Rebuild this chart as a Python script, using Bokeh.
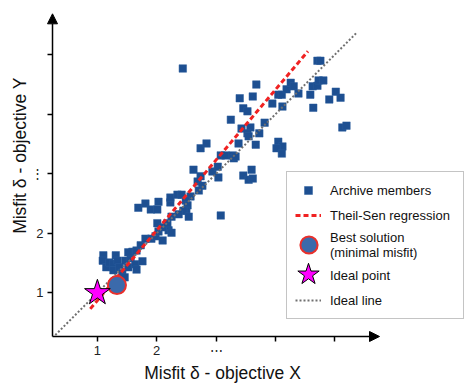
import math
from bokeh.plotting import figure
from bokeh.models import (Range1d, FixedTicker, Arrow, NormalHead, Label,
                          Legend, LegendItem)
from bokeh.embed import file_html
from bokeh.resources import INLINE

# ---- data ----
archive_x = [1.10, 1.09, 1.15, 1.20, 1.27, 1.31, 1.34, 1.27, 1.37, 1.42, 1.46, 1.47, 1.52, 1.56, 1.59, 1.66, 1.73, 1.64, 1.66, 1.76, 1.52,
             1.81, 1.91, 1.98, 2.10, 2.03, 2.20, 2.01, 2.10, 2.18, 2.25,
             1.69, 1.81, 1.90, 2.01, 2.03, 2.23, 2.23, 2.35, 2.42, 2.57, 2.49, 2.52, 2.50, 2.45, 2.54, 2.37, 2.25, 3.08,
             2.62, 2.74, 2.69, 2.77, 2.71, 2.94, 3.03, 3.04, 2.74, 2.84, 3.08, 3.16, 3.28, 3.30, 3.33, 3.38, 3.46, 3.55, 3.62, 3.60, 3.67,
             3.25, 3.40, 3.46, 3.53, 3.68, 3.62, 3.43, 3.58, 3.53, 3.55, 3.73, 3.82, 4.05, 4.12, 4.02, 4.11, 3.95, 4.12, 4.05, 4.11,
             4.19, 4.26, 4.31, 4.39, 4.59, 4.64, 4.63, 4.71, 4.73, 4.81, 4.71, 4.76, 5.02, 5.10, 4.91, 5.13, 5.20, 2.44]
archive_y = [1.63, 1.54, 1.43, 1.51, 1.49, 1.63, 1.54, 1.38, 1.43, 1.34, 1.26, 1.54, 1.43, 1.58, 1.69, 1.71, 1.80, 1.48, 1.39, 1.53, 1.68,
             1.91, 1.91, 1.95, 1.88, 2.03, 2.05, 2.17, 2.10, 2.17, 2.01,
             2.43, 2.50, 2.40, 2.40, 2.53, 2.52, 2.60, 2.65, 2.65, 2.62, 2.55, 2.47, 2.38, 2.38, 2.28, 2.32, 2.28, 2.30,
             3.07, 2.96, 2.87, 2.80, 2.72, 3.04, 3.12, 2.94, 3.43, 3.51, 3.31, 3.31, 3.31, 3.26, 3.29, 3.51, 2.97, 2.90, 2.92, 3.07, 3.49,
             3.91, 4.27, 4.10, 4.05, 4.50, 4.30, 3.76, 3.78, 3.68, 3.63, 3.68, 3.86, 3.54, 3.46, 3.43, 3.34, 4.18, 4.13, 4.33, 4.33,
             4.42, 4.53, 4.47, 4.35, 4.33, 4.11, 4.47, 4.48, 4.57, 4.57, 4.90, 4.90, 4.38, 4.28, 4.25, 3.78, 3.81, 4.77]

theil_x = [0.88, 4.55]
theil_y = [0.73, 5.06]
ideal_line_x = [0.29, 5.37]
ideal_line_y = [0.29, 5.37]
best_x = [1.33]
best_y = [1.13]
ideal_x = [1.0]
ideal_y = [1.0]

x_ticks = [1, 2, 3, 4, 5]
x_tick_labels = ["1", "2", "\u22ef", "", ""]
y_ticks = [1, 2, 3, 4, 5]
y_tick_labels = ["1", "2", "\u22ee", "", ""]
x_label = "Misfit \u03b4 - objective X"
y_label = "Misfit \u03b4 - objective Y"
legend_labels = ["Archive members", "Theil-Sen regression",
                 "Best solution\n(minimal misfit)", "Ideal point", "Ideal line"]

# axis extents (data units)
x0, y0 = 0.243, 0.266
x_tip, y_tip = 5.757, 5.689

FONT = "Liberation Sans"

p = figure(width=465, height=383, output_backend="svg", toolbar_location=None,
           x_range=Range1d(-0.634, 7.207), y_range=Range1d(-0.524, 5.913),
           min_border=0)
p.outline_line_color = None
p.grid.visible = False
p.background_fill_color = "white"
p.border_fill_color = "white"

p.xaxis.fixed_location = y0
p.yaxis.fixed_location = x0
for ax, ticks, labels in ((p.xaxis, x_ticks, x_tick_labels), (p.yaxis, y_ticks, y_tick_labels)):
    ax.ticker = FixedTicker(ticks=ticks)
    ax.major_label_overrides = {t: l for t, l in zip(ticks, labels)}
    ax.axis_line_color = None
    ax.major_tick_out = 5
    ax.major_tick_in = 0
    ax.minor_tick_out = 0
    ax.minor_tick_in = 0
    ax.major_tick_line_color = "black"
    ax.major_tick_line_width = 1.5
    ax.major_label_text_font = FONT
    ax.major_label_text_font_size = "13px"
    ax.major_label_text_color = "#222222"
p.xaxis.major_label_standoff = 2
p.yaxis.major_label_standoff = 4

r_sq = p.scatter(archive_x, archive_y, marker="square", size=7.5,
                 fill_color="#1d4f91", line_color="#2a5c9c", line_width=0.5)
r_ideal_line = p.line(ideal_line_x, ideal_line_y, line_color="#707070",
                      line_width=2, line_dash="2 2")
r_theil = p.line(theil_x, theil_y, line_color="#f02222", line_width=3, line_dash="5 3")
r_best = p.scatter(best_x, best_y, marker="circle", size=18,
                   fill_color="#3b6aab", line_color="#e8302c", line_width=2)
r_star = p.scatter(ideal_x, ideal_y, marker="star", size=27,
                   fill_color="#ff00ff", line_color="black", line_width=1)
# invisible stand-ins so the main legend keeps the rows; bigger glyphs drawn by overlays
r_blank = p.scatter([], [], marker="circle", size=1, fill_alpha=0, line_alpha=0)

# axis arrows
p.add_layout(Arrow(end=NormalHead(size=10, fill_color="black", line_color="black"),
                   x_start=x0, y_start=y0, x_end=x_tip, y_end=y0,
                   line_color="black", line_width=1.5))
p.add_layout(Arrow(end=NormalHead(size=10, fill_color="black", line_color="black"),
                   x_start=x0, y_start=y0, x_end=x0, y_end=y_tip,
                   line_color="black", line_width=1.5))

# axis titles
p.add_layout(Label(x=3.11, y=-0.345, text=x_label, text_align="center",
                   text_baseline="alphabetic", text_font=FONT,
                   text_font_size="17.5px", text_color="#111111"))
p.add_layout(Label(x=-0.313, y=3.307, angle=math.pi / 2, text=y_label,
                   text_align="center", text_baseline="alphabetic", text_font=FONT,
                   text_font_size="17.5px", text_color="#111111"))

legend = Legend(items=[
    LegendItem(label=legend_labels[0], renderers=[r_sq]),
    LegendItem(label=legend_labels[1], renderers=[r_theil]),
    LegendItem(label=legend_labels[2], renderers=[r_blank]),
    LegendItem(label=legend_labels[3], renderers=[r_blank]),
    LegendItem(label=legend_labels[4], renderers=[r_ideal_line]),
], location=(286, 64))
legend.label_text_font = FONT
legend.label_text_font_size = "13px"
legend.label_text_color = "#111111"
legend.glyph_width = 26
legend.glyph_height = 20
legend.label_height = 20
legend.label_width = 125
legend.label_standoff = 9
legend.padding = 8
legend.spacing = 5
legend.margin = 0
legend.border_line_color = "#8a8a8a"
legend.border_line_width = 1.5
legend.background_fill_color = "white"
legend.background_fill_alpha = 1
p.add_layout(legend)


def overlay(renderer, box, loc):
    lg = Legend(items=[LegendItem(label=" ", renderers=[renderer])], location=loc)
    lg.glyph_width = box
    lg.glyph_height = box
    lg.label_height = 10
    lg.label_standoff = 0
    lg.padding = 0
    lg.spacing = 0
    lg.margin = 0
    lg.border_line_color = None
    lg.background_fill_alpha = 0
    lg.label_text_font_size = "1px"
    p.add_layout(lg)


overlay(r_best, 43, (286.5, 117.5))
overlay(r_star, 56, (280.0, 81.0))

open("out.html", "w").write(file_html(p, INLINE))
